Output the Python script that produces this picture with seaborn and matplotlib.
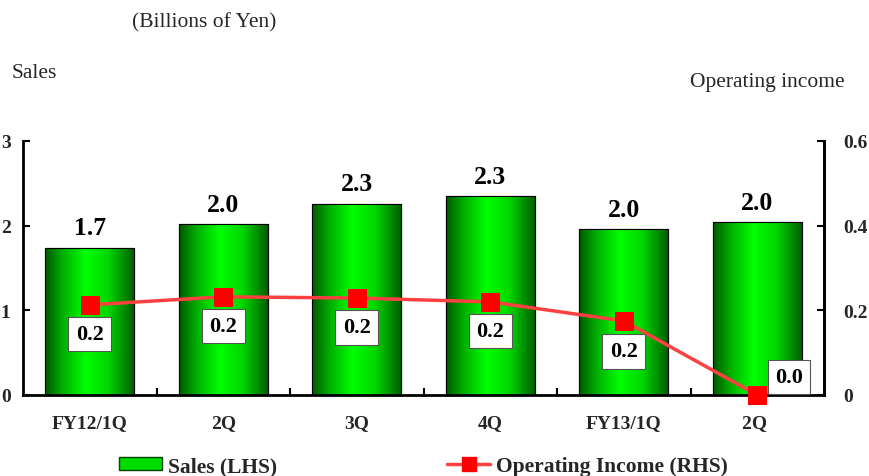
import numpy as np
import pandas as pd
import matplotlib
matplotlib.use("Agg")
import matplotlib.pyplot as plt
import seaborn as sns
from matplotlib.colors import LinearSegmentedColormap
from matplotlib.lines import Line2D
from matplotlib.patches import Rectangle

categories = ["FY12/1Q", "2Q", "3Q", "4Q", "FY13/1Q", "2Q "]
sales = [1.74, 2.02, 2.26, 2.35, 1.96, 2.04]
sales_labels = ["1.7", "2.0", "2.3", "2.3", "2.0", "2.0"]
op_income = [0.213, 0.232, 0.229, 0.220, 0.175, 0.0]
op_labels = ["0.2", "0.2", "0.2", "0.2", "0.2", "0.0"]
left_ticks = [0, 1, 2, 3]
right_ticks = [0, 0.2, 0.4, 0.6]
right_tick_labels = ["0", "0.2", "0.4", "0.6"]

sns.set_theme(style="white")
plt.rcParams["font.family"] = ["Liberation Serif", "DejaVu Serif"]

fig = plt.figure(figsize=(8.69, 4.77), dpi=100)
ax = fig.add_axes([23/869, 1-396/477, (824-23)/869, (396-142)/477])

df = pd.DataFrame({"cat": categories, "sales": sales})
sns.barplot(data=df, x="cat", y="sales", ax=ax, color="#00cc00", width=0.67,
            edgecolor="black", linewidth=0.8, zorder=2)

cmap = LinearSegmentedColormap.from_list(
    "g", [(0, "#005800"), (0.2, "#00b000"), (0.45, "#00ff00"), (0.7, "#00d800"), (1, "#005a00")])
grad = np.linspace(0, 1, 256).reshape(1, -1)
for p in list(ax.patches):
    x0, y0 = p.get_x(), p.get_y()
    w, h = p.get_width(), p.get_height()
    im = ax.imshow(grad, cmap=cmap, aspect="auto", extent=[x0, x0 + w, y0, y0 + h],
                   zorder=2.1, interpolation="bicubic")
    im.set_clip_path(p)
    ax.add_patch(Rectangle((x0, y0), w, h, fill=False, edgecolor="black", linewidth=0.8, zorder=2.2))

for i, (v, lab) in enumerate(zip(sales, sales_labels)):
    ax.annotate(lab, (i, v), xytext=(0, 6), textcoords="offset points", ha="center", va="bottom",
                fontsize=18.5, fontweight="bold", color="black")

ax.set_xlim(-0.5, 5.5)
ax.set_ylim(0, 3)
ax.set_yticks(left_ticks)
ax.set_yticklabels([str(t) for t in left_ticks], fontsize=14, fontweight="bold")
ax.set_xticks(range(len(categories)))
ax.set_xticklabels(categories, fontsize=14, fontweight="bold")
ax.set_xticks([0.5, 1.5, 2.5, 3.5, 4.5], minor=True)
ax.tick_params(axis="x", which="major", length=0, pad=14)
ax.tick_params(axis="x", which="minor", direction="in", length=5, width=1.5, color="black", bottom=True)
ax.tick_params(axis="y", direction="in", length=5, width=1.5, color="black", left=True, pad=9)
ax.set_xlabel("")
ax.set_ylabel("")
ax.spines["top"].set_visible(False)
for s in ["left", "bottom", "right"]:
    ax.spines[s].set_color("black")
    ax.spines[s].set_linewidth(2)

ax2 = ax.twinx()
ldf = pd.DataFrame({"x": np.arange(len(categories)), "op": op_income})
sns.lineplot(data=ldf, x="x", y="op", ax=ax2, color="#ff4040", linewidth=2.5, marker="s",
             markersize=13, markerfacecolor="#ff0000", markeredgecolor="#ff0000", sort=False, zorder=5)
ax2.set_ylim(0, 0.6)
ax2.set_yticks(right_ticks)
ax2.set_yticklabels(right_tick_labels, fontsize=14, fontweight="bold")
ax2.tick_params(axis="y", direction="in", length=5, width=1.5, color="black", right=True, pad=13.5)
ax2.set_ylabel("")
ax2.set_xlabel("")
ax2.set_xlim(-0.5, 5.5)
for s in ["top", "left", "bottom"]:
    ax2.spines[s].set_visible(False)
ax2.spines["right"].set_color("black")
ax2.spines["right"].set_linewidth(2)
for ln in ax2.lines:
    ln.set_clip_on(False)

offsets = [(0, -21), (0, -21), (0, -21), (0, -21), (0, -22), (23, 13)]
for i, (v, lab) in enumerate(zip(op_income, op_labels)):
    ax2.annotate(lab, (i, v), xytext=offsets[i], textcoords="offset points", ha="center", va="center",
                 fontsize=16, fontweight="bold", color="black", zorder=6,
                 bbox=dict(boxstyle="square,pad=0.33", fc="white", ec="#555555", lw=0.8))

fig.text(132/869, 1-23/477, "(Billions of Yen)", fontsize=15.5, ha="left", va="center")
fig.text(12/869, 1-74/477, "Sales", fontsize=15.5, ha="left", va="center")
fig.text(690/869, 1-82/477, "Operating income", fontsize=15.5, ha="left", va="center")

handles = [Rectangle((0, 0), 1, 1, facecolor="#00dd00", edgecolor="#004400", lw=1),
           Line2D([0], [0], color="#ff4040", lw=2.5, marker="s", markersize=10,
                  markerfacecolor="#ff0000", markeredgecolor="#ff0000")]
fig.legend(handles, ["Sales (LHS)", "Operating Income (RHS)"], loc="center left",
           bbox_to_anchor=(119/869, 1-467/477), ncol=2, frameon=False, borderpad=0,
           borderaxespad=0, prop={"size": 15.5, "weight": "bold"}, columnspacing=7.9,
           handlelength=2.0, handletextpad=0.28, handleheight=0.6)

fig.savefig("out.png", dpi=100)
